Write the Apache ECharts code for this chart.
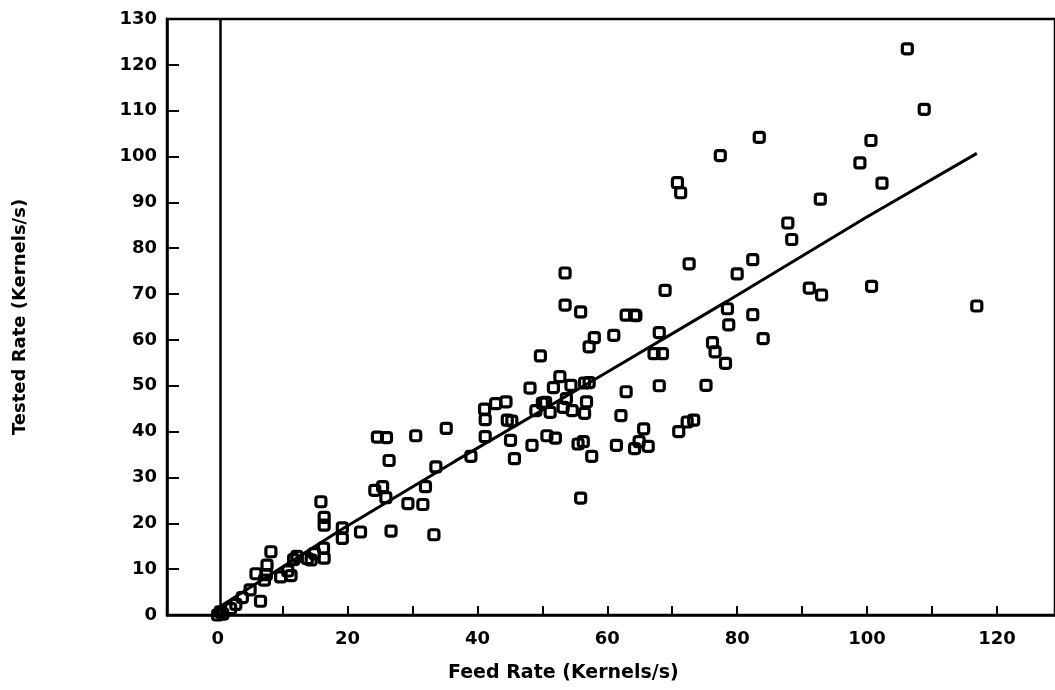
<!DOCTYPE html>
<html>
<head>
<meta charset="utf-8">
<script src="https://cdn.jsdelivr.net/npm/echarts@6/dist/echarts.min.js"></script>
<style>
html,body{margin:0;padding:0;background:#fff;}
#chart{width:1055px;height:690px;}
</style>
</head>
<body>
<div id="chart"></div>
<script>
// Feed rate (x) and tested rate (y) observations, kernels/s
const feedRate = [
  0, 0.4, 0.8, 2.0, 2.8, 3.8, 5.0, 5.9, 6.6, 7.2, 7.5, 7.6, 8.2, 9.7, 10.8, 11.3, 11.7, 12.2, 13.8, 14.4,
  14.9, 16.3, 16.4, 15.9, 16.4, 16.4, 19.2, 19.2, 22.0, 26.7, 24.2, 25.4, 25.9, 26.4, 24.6, 26.0, 30.5, 35.2, 29.3, 31.6,
  32.0, 33.6, 33.3,
  39.0, 41.1, 42.8, 44.4, 41.2, 44.6, 45.3, 41.2, 45.1, 45.7, 48.1, 48.4, 49.7, 49.0, 50.0, 51.2, 50.7, 52.0, 51.7, 52.7,
  53.2, 53.7, 54.4, 54.6, 50.5, 53.5, 53.5, 55.9, 55.5, 56.3, 56.5, 56.8, 56.5, 57.2, 57.6, 55.9, 57.2, 58.0, 61.0, 61.4,
  62.1, 62.9, 62.9, 64.2, 64.2, 64.9, 65.6, 66.3, 67.2, 68.5, 68.0, 68.0, 68.9, 71.0, 72.3, 73.3, 72.6, 75.2, 76.2, 76.6,
  78.2, 78.5, 78.7, 80.0, 82.4, 82.4, 84.0,
  106.2, 108.8, 83.4, 77.4, 100.6, 98.9, 102.3, 70.8, 71.3, 92.8, 87.8, 88.4, 91.1, 93.0, 100.7, 116.9, 64.4
];
const testedRate = [
  0, 0.7, 0.2, 1.4, 2.3, 3.8, 5.5, 9.0, 3.0, 7.6, 8.8, 10.9, 13.8, 8.3, 9.6, 8.6, 12.1, 12.8, 12.3, 12.0,
  13.4, 14.6, 12.4, 24.7, 21.3, 19.6, 19.0, 16.7, 18.1, 18.3, 27.2, 28.0, 25.6, 33.7, 38.8, 38.7, 39.1, 40.7, 24.3, 24.1,
  28.0, 32.3, 17.5,
  34.6, 44.9, 46.1, 46.5, 42.6, 42.5, 42.3, 38.9, 38.1, 34.1, 49.5, 37.0, 56.5, 44.6, 46.2, 44.2, 39.1, 38.6, 49.6, 52.0,
  45.3, 47.2, 50.1, 44.6, 46.4, 74.6, 67.6, 66.1, 37.3, 37.8, 44.0, 46.5, 50.6, 50.7, 34.6, 25.5, 58.5, 60.5, 61.0, 37.0,
  43.5, 48.7, 65.4, 65.4, 36.3, 37.8, 40.6, 36.8, 57.0, 57.0, 61.6, 50.0, 70.8, 40.0, 42.1, 42.5, 76.6, 50.1, 59.4, 57.4,
  54.9, 66.8, 63.3, 74.4, 77.5, 65.5, 60.3,
  123.5, 110.3, 104.2, 100.2, 103.5, 98.6, 94.2, 94.3, 92.1, 90.7, 85.5, 81.9, 71.3, 69.8, 71.7, 67.4, 65.3
];
// Fitted line vertices
const fitX = [0.2, 19, 36.5, 57.6, 78.4, 99.7, 116.9];
const fitY = [1.7, 18.6, 33.5, 51.0, 68.4, 86.6, 100.7];
// Vertical reference line position
const zeroLineX = 0.4;
// Tick values
const xTickVals = [0, 10, 20, 30, 40, 50, 60, 70, 80, 90, 100, 110, 120];
const xLabelVals = [0, 20, 40, 60, 80, 100, 120];
const xTitle = 'Feed Rate (Kernels/s)';
const yTitle = 'Tested Rate (Kernels/s)';

const points = feedRate.map((x, i) => [x, testedRate[i]]);
const fitLine = fitX.map((x, i) => [x, fitY[i]]);

const FONT = '"DejaVu Sans", sans-serif';
const chart = echarts.init(document.getElementById('chart'), null, {renderer: 'canvas'});
chart.setOption({
  animation: false,
  backgroundColor: '#fff',
  grid: {
    left: 167, top: 19, right: -10, bottom: 75,
    show: true, borderColor: '#000', borderWidth: 2.5, backgroundColor: 'transparent'
  },
  xAxis: {
    type: 'value', min: -7.8, max: 128.94,
    axisLine: {show: true, onZero: false, lineStyle: {color: '#000', width: 2.5}},
    axisTick: {show: true, inside: true, length: 9, customValues: xTickVals, lineStyle: {color: '#000', width: 2}},
    axisLabel: {customValues: xLabelVals, margin: 15, color: '#000', fontFamily: FONT, fontWeight: 'bold', fontSize: 18},
    splitLine: {show: false}
  },
  yAxis: {
    type: 'value', min: 0, max: 130, interval: 10,
    axisLine: {show: true, onZero: false, lineStyle: {color: '#000', width: 2.5}},
    axisTick: {show: true, inside: true, length: 12, lineStyle: {color: '#000', width: 2}},
    axisLabel: {margin: 10, color: '#000', fontFamily: FONT, fontWeight: 'bold', fontSize: 18},
    splitLine: {show: false}
  },
  graphic: [
    {type: 'text', left: 448, top: 664, style: {text: xTitle, fill: '#000', font: 'bold 19px ' + FONT}},
    {type: 'text', x: 20, y: 317, rotation: Math.PI / 2,
     style: {text: yTitle, fill: '#000', font: 'bold 18px ' + FONT, textAlign: 'center', textVerticalAlign: 'middle'}}
  ],
  series: [
    {
      type: 'line', data: fitLine, symbol: 'none', silent: true,
      lineStyle: {color: '#000', width: 3},
      markLine: {
        silent: true, symbol: ['none', 'none'], label: {show: false},
        lineStyle: {color: '#000', width: 2.5, type: 'solid'},
        data: [{xAxis: zeroLineX}]
      }
    },
    {
      type: 'scatter', data: points, symbol: 'roundRect', symbolSize: 10,
      itemStyle: {color: 'rgba(255,255,255,0)', borderColor: '#000', borderWidth: 3.2, opacity: 1}
    }
  ]
});
</script>
</body>
</html>
